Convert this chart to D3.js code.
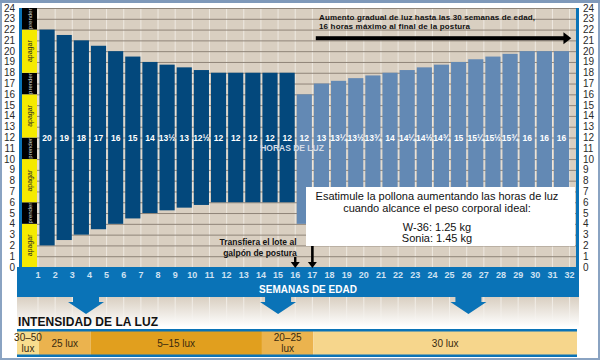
<!DOCTYPE html>
<html><head><meta charset="utf-8">
<script src="https://cdn.jsdelivr.net/npm/d3@7"></script>
<style>
html,body{margin:0;padding:0;background:#fff;}
svg{display:block;}
text{font-family:'Liberation Sans',Arial,sans-serif;}
.narrow{font-family:'Liberation Sans Narrow','Liberation Sans',Arial,sans-serif;}
</style></head>
<body><svg id="chart" width="600" height="360"></svg>
<script>
// ---------- DATA ----------
const weekTicks = [1,2,3,4,5,6,7,8,9,10,11,12,13,14,15,16,17,18,19,20,21,22,23,24,25,26,27,28,29,30,31,32];
const barWeeks = [1,2,3,4,5,6,7,8,9,10,11,12,13,14,15,16,17,18,19,20,21,22,23,24,25,26,27,28,29,30,31];
const hourLabels = ["20","19","18","17","16","15","14","13½","13","12½","12","12","12","12","12",
                    "12","13","13¼","13½","13¾","14","14¼","14½","14¾","15","15¼","15½","15¾","16","16","16"];
const lightsOn  = [2,2.5,3,3.5,4,4.5,5,5.25,5.5,5.75,6,6,6,6,6,
                   4,4,4,4,4,4,4,4,4,4,4,4,4,4,4,4];
const lightsOff = [22,21.5,21,20.5,20,19.5,19,18.75,18.5,18.25,18,18,18,18,18,
                   16,17,17.25,17.5,17.75,18,18.25,18.5,18.75,19,19.25,19.5,19.75,20,20,20];
const phase = ["cría","cría","cría","cría","cría","cría","cría","cría","cría","cría","cría","cría","cría","cría","cría",
               "postura","postura","postura","postura","postura","postura","postura","postura","postura","postura","postura","postura","postura","postura","postura","postura"];
const hourTicks = [0,1,2,3,4,5,6,7,8,9,10,11,12,13,14,15,16,17,18,19,20,21,22,23,24];
const switchFrom  = [0,4,6,10,12,16,18,22];
const switchTo    = [4,6,10,12,16,18,22,24];
const switchLabel = ["apagar","prender","apagar","prender","apagar","prender","apagar","prender"];
const luxLabels = [["30–50","lux"],["25 lux"],["5–15 lux"],["20–25","lux"],["30 lux"]];
const luxFrom   = [0,1,4,14,17];
const luxTo     = [1,4,14,17,32];
const arrowWeeks = [3.8,15,26.1];

// ---------- LAYOUT ----------
const svg = d3.select("#chart");
const W = 600, H = 360;
const plotL = 37, plotR = 576, plotT = 8, plotB = 267;
const x = d3.scaleLinear().domain([1,32]).range([38,569.6]);
const y = d3.scaleLinear().domain([0,24]).range([plotB,plotT]);
const blue = "#0a73b7", dark = "#03487c", light = "#6389b4", tan = "#d9cfc1";

// frame
svg.append("rect").attr("x",1).attr("y",1).attr("width",W-2).attr("height",H-2)
  .attr("fill","none").attr("stroke","#8aa3c2").attr("stroke-width",2);
svg.append("rect").attr("x",0).attr("y",0).attr("width",W).attr("height",3).attr("fill","#7f99ba");

// plot background
svg.append("rect").attr("x",plotL).attr("y",plotT).attr("width",plotR-plotL).attr("height",plotB-plotT).attr("fill",tan);
// vertical light grid
svg.append("g").selectAll("line").data(weekTicks).join("line")
  .attr("x1",d=>x(d)).attr("x2",d=>x(d)).attr("y1",plotT).attr("y2",plotB)
  .attr("stroke","#eee9e1").attr("stroke-width",1);
// horizontal grid
svg.append("g").selectAll("line").data(hourTicks.slice(1)).join("line")
  .attr("x1",plotL).attr("x2",plotR).attr("y1",d=>y(d)+0.5).attr("y2",d=>y(d)+0.5)
  .attr("stroke","#8f8478").attr("stroke-width",1);

// bars
const bars = barWeeks.map((w,i)=>({w,on:lightsOn[i],off:lightsOff[i],lab:hourLabels[i],ph:phase[i]}));
svg.append("g").selectAll("rect").data(bars).join("rect")
  .attr("x",d=>x(d.w)+1.5).attr("width",d=>x(d.w+1)-x(d.w)-2)
  .attr("y",d=>y(d.off)).attr("height",d=>y(d.on)-y(d.off))
  .attr("fill",d=>d.ph==="cría"?dark:light);
svg.append("g").selectAll("text").data(bars).join("text")
  .attr("class","narrow")
  .attr("x",d=>(x(d.w)+x(d.w+1))/2+0.5).attr("y",y(12)+3)
  .attr("text-anchor","middle").attr("font-size",8.5).attr("font-weight","bold")
  .attr("fill","#fff").text(d=>d.lab);
svg.append("text").attr("class","narrow").attr("x",292).attr("y",151).attr("text-anchor","middle")
  .attr("font-size",8.5).attr("font-weight","bold").attr("fill","#d3dbe6").text("HORAS DE LUZ");

// left blue line + switch strip
svg.append("rect").attr("x",19).attr("y",plotT).attr("width",3).attr("height",plotB-plotT).attr("fill",blue);
const sw = switchFrom.map((f,i)=>({f,t:switchTo[i],l:switchLabel[i]}));
svg.append("g").selectAll("rect").data(sw).join("rect")
  .attr("x",22).attr("width",plotL-22).attr("y",d=>y(d.t)).attr("height",d=>y(d.f)-y(d.t))
  .attr("fill",d=>d.l==="apagar"?"#f5ea00":"#000");
svg.append("g").selectAll("text").data(sw).join("text")
  .attr("transform",d=>`translate(${(22+plotL)/2+2.3},${(y(d.f)+y(d.t))/2}) rotate(-90)`)
  .attr("text-anchor","middle").attr("font-size",d=>d.l==="apagar"?7:6)
  .attr("fill",d=>d.l==="apagar"?"#222":"#ddd").text(d=>d.l);

// hour axes
svg.append("g").selectAll("text").data(hourTicks).join("text")
  .attr("class","narrow").attr("x",15).attr("y",d=>y(d)+3.5).attr("text-anchor","end")
  .attr("font-size",10).attr("fill","#2a2a2a").text(d=>d);
svg.append("rect").attr("x",plotR).attr("y",plotT).attr("width",3).attr("height",plotB-plotT).attr("fill",blue);
svg.append("g").selectAll("text").data(hourTicks).join("text")
  .attr("class","narrow").attr("x",583).attr("y",d=>y(d)+3.5).attr("text-anchor","start")
  .attr("font-size",10).attr("fill","#2a2a2a").text(d=>d);

// bottom blue band with weeks
svg.append("rect").attr("x",17).attr("y",plotB).attr("width",579-17).attr("height",30).attr("fill",blue);
svg.append("g").selectAll("text").data(weekTicks).join("text")
  .attr("class","narrow").attr("x",d=>x(d)).attr("y",278).attr("text-anchor","middle")
  .attr("font-size",9).attr("font-weight","bold").attr("fill","#cfe2f2").text(d=>d);
svg.append("text").attr("x",308).attr("y",293).attr("text-anchor","middle")
  .attr("font-size",10).attr("font-weight","bold").attr("fill","#fff").text("SEMANAS DE EDAD");

// fading area
const defs = svg.append("defs");
const g1 = defs.append("linearGradient").attr("id","fade").attr("x1",0).attr("x2",0).attr("y1",0).attr("y2",1);
g1.append("stop").attr("offset","0%").attr("stop-color",tan);
g1.append("stop").attr("offset","100%").attr("stop-color","#fff");
svg.append("rect").attr("x",17).attr("y",297).attr("width",579-17).attr("height",30).attr("fill","url(#fade)");
const g2 = defs.append("linearGradient").attr("id","fadeL").attr("x1",0).attr("x2",0).attr("y1",0).attr("y2",1)
  .attr("gradientUnits","userSpaceOnUse").attr("y1",297).attr("y2",325);
g2.append("stop").attr("offset","0%").attr("stop-color","#f2eee8").attr("stop-opacity",1);
g2.append("stop").attr("offset","100%").attr("stop-color","#fff").attr("stop-opacity",0);
svg.append("g").selectAll("line").data(weekTicks).join("line")
  .attr("x1",d=>x(d)).attr("x2",d=>x(d)).attr("y1",297).attr("y2",325)
  .attr("stroke","url(#fadeL)").attr("stroke-width",1);
svg.append("g").selectAll("path").data(arrowWeeks).join("path")
  .attr("d",d=>{const c=x(d);return `M${c-13},297L${c+13},297L${c+13},302L${c+18},302L${c},314L${c-18},302L${c-13},302Z`;})
  .attr("fill",blue);

// intensity
svg.append("text").attr("x",18).attr("y",326).attr("font-size",12).attr("font-weight","bold")
  .attr("fill","#111").attr("textLength",140).text("INTENSIDAD DE LA LUZ");
const luxColors = ["#f8dc8e","#ebb34e","#e19f1e","#ebb34e","#f6d68c"];
const lux = luxFrom.map((f,i)=>({f,t:luxTo[i],l:luxLabels[i],c:luxColors[i]}));
const lx = v => v===0 ? 17 : (v===32 ? 577 : x(v)+1);
svg.append("g").selectAll("rect").data(lux).join("rect")
  .attr("x",d=>lx(d.f)).attr("width",d=>lx(d.t)-lx(d.f)).attr("y",331).attr("height",24).attr("fill",d=>d.c);
svg.append("rect").attr("x",17).attr("y",329).attr("width",560).attr("height",2.5).attr("fill",blue);
svg.append("rect").attr("x",17).attr("y",354.5).attr("width",560).attr("height",2.5).attr("fill",blue);
lux.forEach(d=>{
  const cx=(lx(d.f)+lx(d.t))/2;
  const t=svg.append("text").attr("class","narrow").attr("text-anchor","middle")
    .attr("font-size",10).attr("fill","#3a2a0e");
  if(d.l.length===1){ t.attr("x",cx).attr("y",347).text(d.l[0]); }
  else{
    t.append("tspan").attr("x",cx).attr("y",341).text(d.l[0]);
    t.append("tspan").attr("x",cx).attr("y",352).text(d.l[1]);
  }
});

// top annotation and arrow
svg.append("text").attr("x",319).attr("y",20).attr("font-size",8).attr("font-weight","bold").attr("fill","#111")
  .attr("textLength",216).text("Aumento gradual de luz hasta las 30 semanas de edad,");
svg.append("text").attr("x",319).attr("y",29).attr("font-size",8).attr("font-weight","bold").attr("fill","#111")
  .attr("textLength",151).text("16 horas máximo al final de la postura");
svg.append("rect").attr("x",x(17.2)).attr("y",y(21.2)-2).attr("width",x(31.7)-x(17.2)).attr("height",4).attr("fill","#000");
svg.append("path").attr("d",`M${x(31.7)-1},${y(21.2)-6}L${x(32.1)},${y(21.2)}L${x(31.7)-1},${y(21.2)+6}Z`).attr("fill","#000");

// stimulation box
svg.append("rect").attr("x",306).attr("y",187).attr("width",575-306).attr("height",59).attr("fill","#fff");
const boxLines = ["Esatimule la pollona aumentando las horas de luz","cuando alcance el peso corporal ideal:","W-36: 1.25 kg","Sonia: 1.45 kg"];
const boxY = [200,212,231,242];
svg.append("g").selectAll("text").data(boxLines).join("text")
  .attr("x",437).attr("y",(d,i)=>boxY[i]).attr("text-anchor","middle")
  .attr("font-size",11).attr("fill","#111").text(d=>d);

// transfer annotation
svg.append("text").attr("x",258).attr("y",245).attr("text-anchor","middle").attr("font-size",8.5)
  .attr("font-weight","bold").attr("fill","#111").text("Transfiera el lote al");
svg.append("text").attr("x",260).attr("y",256).attr("text-anchor","middle").attr("font-size",8.5)
  .attr("font-weight","bold").attr("fill","#111").text("galpón de postura");
// arrows week 16 and 17
svg.append("rect").attr("x",x(16)-1.2).attr("y",257).attr("width",2.4).attr("height",6).attr("fill","#000");
svg.append("path").attr("d",`M${x(16)-4.5},262L${x(16)+4.5},262L${x(16)},268Z`).attr("fill","#000");
svg.append("rect").attr("x",x(17)-1.3).attr("y",246).attr("width",2.6).attr("height",17).attr("fill","#000");
svg.append("path").attr("d",`M${x(17)-4.5},262L${x(17)+4.5},262L${x(17)},268Z`).attr("fill","#000");
</script></body></html>
